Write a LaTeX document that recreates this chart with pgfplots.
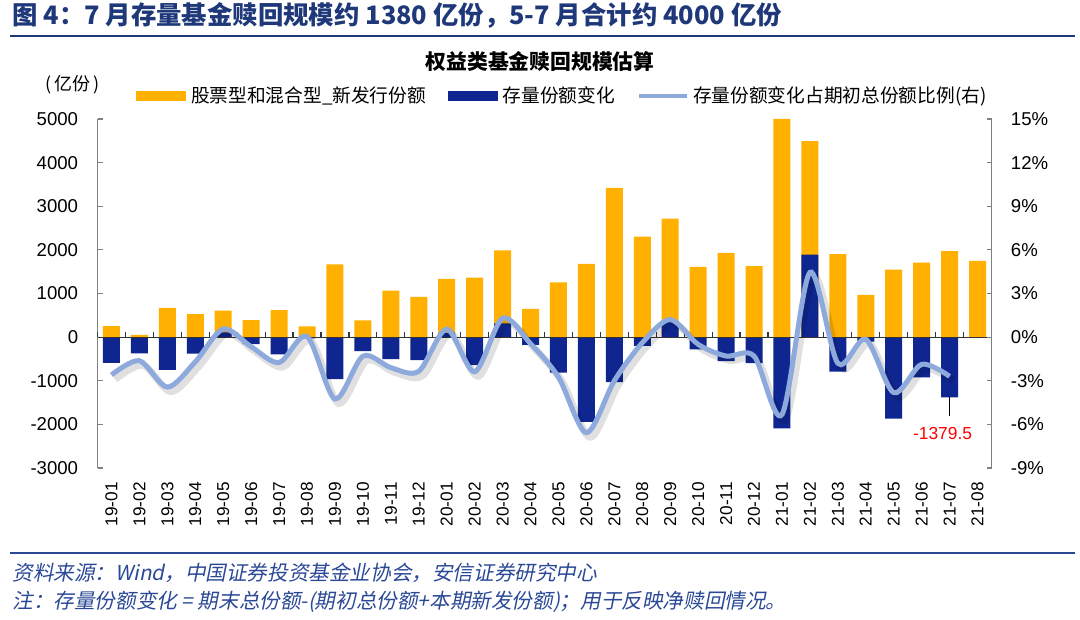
\documentclass[border=0pt]{standalone}
\usepackage{fontspec}
\setmainfont{Liberation Sans}
\newfontfamily\cjk{Noto Sans CJK SC}
\newfontfamily\cjkit{Noto Sans CJK SC}[FakeSlant=0.2]
\usepackage{pgfplots}
\usepackage{pgfplotstable}
\pgfplotsset{compat=1.18}
\definecolor{orangec}{RGB}{255,176,0}
\definecolor{navyc}{RGB}{15,38,144}
\definecolor{lineblue}{RGB}{142,170,220}
\definecolor{headblue}{RGB}{30,56,122}
\definecolor{srcblue}{RGB}{42,72,150}
\definecolor{axgray}{RGB}{128,128,128}

\pgfplotstableread{
x y
0 250
1 50
2 670
3 530
4 605
5 390
6 620
7 245
8 1670
9 385
10 1065
11 920
12 1335
13 1365
14 1990
15 645
16 1255
17 1680
18 3420
19 2305
20 2715
21 1610
22 1930
23 1625
24 5000
25 4495
26 1900
27 970
28 1545
29 1705
30 1970
31 1745
}\newissue

\pgfplotstableread{
x y
0 -590
1 -375
2 -750
3 -380
4 110
5 -160
6 -395
7 -30
8 -965
9 -320
10 -505
11 -530
12 100
13 -640
14 315
15 -175
16 -815
17 -1945
18 -1030
19 -200
20 345
21 -280
22 -550
23 -595
24 -2090
25 1890
26 -790
27 -105
28 -1866
29 -925
30 -1379.5
}\stockchg

\pgfplotstableread{
x y
0 -2.6
1 -1.62
2 -3.44
3 -1.7
4 0.56
5 -0.66
6 -1.75
7 0.05
8 -4.25
9 -1.31
10 -2.1
11 -2.35
12 0.55
13 -2.38
14 1.3
15 -0.45
16 -2.75
17 -6.57
18 -3.0
19 -0.39
20 1.21
21 -0.5
22 -1.3
23 -1.3
24 -5.32
25 4.45
26 -1.8
27 -0.15
28 -3.82
29 -1.87
30 -2.7
}\ratio

\begin{document}
\begin{tikzpicture}
\path[use as bounding box] (0pt,0pt) rectangle (540pt,310pt);

% header
\node[anchor=west, inner sep=0pt, text=headblue, font=\cjk\bfseries\fontsize{12.7}{14}\selectfont] at (6pt,302.5pt)
  {图 4：7 月存量基金赎回规模约 1380 亿份，5-7 月合计约 4000 亿份};
\draw[headblue, line width=1pt] (5pt,292pt) -- (537.5pt,292pt);

% chart title and unit
\node[inner sep=0pt, font=\cjk\bfseries\fontsize{10.4}{12}\selectfont] at (270pt,279pt) {权益类基金赎回规模估算};
\node[inner sep=0pt, font=\cjk\fontsize{9}{10}\selectfont] at (36.5pt,267.5pt) {(\,亿份\,)};

\begin{axis}[
  at={(48.75pt,76pt)}, anchor=south west,
  scale only axis, width=447pt, height=174.5pt,
  xmin=-0.5, xmax=31.5, ymin=-3000, ymax=5000,
  axis y line*=left, axis x line*=bottom,
  x axis line style={draw=none,-},
  y axis line style={axgray, line width=0.6pt, -},
  ytick={-3000,-2000,...,5000},
  tick align=inside, major tick length=2.5pt,
  y tick style={axgray, line width=0.6pt},
  major x tick style={draw=none},
  xtick={0,...,31},
  xticklabels={19-01,19-02,19-03,19-04,19-05,19-06,19-07,19-08,19-09,19-10,19-11,19-12,
               20-01,20-02,20-03,20-04,20-05,20-06,20-07,20-08,20-09,20-10,20-11,20-12,
               21-01,21-02,21-03,21-04,21-05,21-06,21-07,21-08},
  xticklabel style={rotate=90, anchor=east, inner xsep=7pt, inner ysep=0pt, font=\fontsize{8.6}{10}\selectfont},
  yticklabel style={inner xsep=9.5pt, inner ysep=0pt, font=\fontsize{9.3}{11}\selectfont},
  /pgf/number format/1000 sep={},
  /pgf/number format/assume math mode=true,
  legend columns=3,
  legend style={at={(0.043,1.066)}, anchor=west, draw=none, fill=none, inner sep=0pt,
    font=\cjk\fontsize{9.35}{11}\selectfont,
    nodes={inner xsep=2.5pt, inner ysep=0pt},
    /tikz/every even column/.append style={column sep=8.5pt}},
  legend cell align=left,
  clip=false,
]
\addplot[ybar, bar width=8.5pt, bar shift=0pt, fill=orangec, draw=none, forget plot] table[x=x,y=y] {\newissue};
\addplot[ybar, bar width=8.5pt, bar shift=0pt, fill=navyc, draw=none, forget plot] table[x=x,y=y] {\stockchg};
\addlegendimage{legend image code/.code={\fill[orangec] (0pt,-2.1pt) rectangle (24.5pt,2.1pt);}}
\addlegendentry{股票型和混合型\_新发行份额}
\addlegendimage{legend image code/.code={\fill[navyc] (0pt,-2.1pt) rectangle (24.5pt,2.1pt);}}
\addlegendentry{存量份额变化}
\addlegendimage{legend image code/.code={\draw[lineblue, line width=1.6pt] (0pt,0pt) -- (24pt,0pt);}}
\addlegendentry{存量份额变化占期初总份额比例(右)}
% zero line and category ticks
\draw[black!80, line width=0.6pt] (axis cs:-0.5,0) -- (axis cs:31.5,0);
\pgfplotsinvokeforeach{0,...,32}{\draw[black!80, line width=0.6pt] (axis cs:#1-0.5,0) -- ++(0pt,2.5pt);}
% annotation
\draw[black, line width=0.8pt] (axis cs:30,-1379.5) -- ++(0pt,-9.5pt);
\node[text=red, inner sep=0pt, font=\fontsize{8.7}{10}\selectfont] at ([xshift=-3.5pt,yshift=-18pt]axis cs:30,-1379.5) {-1379.5};
\end{axis}

\begin{axis}[
  at={(48.75pt,76pt)}, anchor=south west,
  scale only axis, width=447pt, height=174.5pt,
  xmin=-0.5, xmax=31.5, ymin=-9, ymax=15,
  axis y line*=right, axis x line=none,
  y axis line style={axgray, line width=0.6pt, -},
  xtick=\empty,
  ytick={-9,-6,...,15},
  tick align=inside, major tick length=2.5pt,
  y tick style={axgray, line width=0.6pt},
  yticklabel={\pgfmathprintnumber{\tick}\%},
  yticklabel style={inner xsep=9.5pt, inner ysep=0pt, font=\fontsize{9.3}{11}\selectfont},
  /pgf/number format/assume math mode=true,
  clip=false,
]
\addplot[smooth, black, opacity=0.12, line width=3.6pt, xshift=1.8pt, yshift=-2.2pt] table[x=x,y=y] {\ratio};
\addplot[smooth, lineblue, line width=2.5pt] table[x=x,y=y] {\ratio};
\end{axis}

% source
\draw[srcblue, line width=1pt] (5pt,33.5pt) -- (537.5pt,33.5pt);
\node[anchor=west, inner sep=0pt, text=srcblue, font=\cjkit\fontsize{10.3}{11}\selectfont] at (6pt,23.8pt)
  {资料来源：Wind，中国证券投资基金业协会，安信证券研究中心};
\node[anchor=west, inner sep=0pt, text=srcblue, font=\cjkit\fontsize{10.3}{11}\selectfont] at (6pt,9pt)
  {注：存量份额变化 = 期末总份额-(期初总份额+本期新发份额)；用于反映净赎回情况。};
\end{tikzpicture}
\end{document}
